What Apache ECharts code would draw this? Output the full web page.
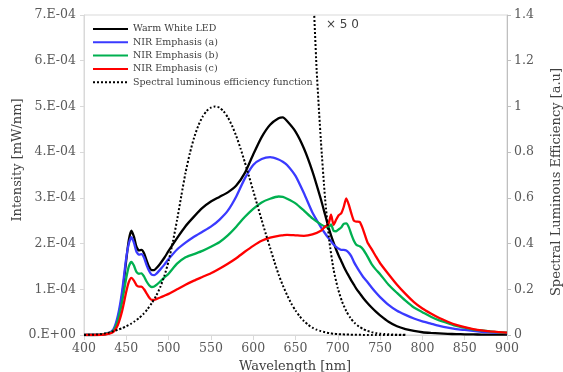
<!DOCTYPE html>
<html>
<head>
<meta charset="utf-8">
<script src="https://cdn.jsdelivr.net/npm/echarts@6/dist/echarts.min.js"></script>
<style>
  html, body { margin: 0; padding: 0; background: #fff; }
  #chart { width: 563px; height: 372px; }
</style>
</head>
<body>
<div id="chart"></div>
<script>
// Wavelength grid (nm) shared by the four emission spectra
const wavelengths = [400, 410, 420, 430, 435, 440, 445, 450,
  453, 456, 459, 462, 465, 468, 471, 474, 477, 480, 483, 486,
  490, 495, 500, 510, 520, 530, 540, 550, 560, 570, 580, 590, 600,
  610, 620, 630, 635, 640, 650, 660, 670, 680,
  685, 689, 692, 695, 698, 701, 704, 707, 710, 713, 716, 719, 722, 726,
  730, 735, 740, 745, 750,
  760, 770, 780, 790, 800, 810, 820, 830, 840, 850, 860, 870, 880, 890, 900];

// Spectral intensities in units of 1e-4 mW/nm
const warmWhite = [0, 0, 0.005, 0.04, 0.10, 0.35, 0.85, 1.65,
  2.08, 2.28, 2.15, 1.93, 1.85, 1.86, 1.79, 1.63, 1.49, 1.42, 1.42, 1.47,
  1.56, 1.69, 1.84, 2.12, 2.38, 2.59, 2.78, 2.92, 3.02, 3.12, 3.27, 3.54, 3.95,
  4.33, 4.60, 4.74, 4.76, 4.68, 4.45, 4.08, 3.58, 2.97,
  2.63, 2.36, 2.18, 2.02, 1.87, 1.74, 1.62, 1.50, 1.39, 1.29, 1.19, 1.10, 1.01, 0.91,
  0.81, 0.70, 0.60, 0.51, 0.43,
  0.29, 0.19, 0.13, 0.09, 0.06, 0.045, 0.035, 0.025, 0.02, 0.015, 0.012, 0.01, 0.01, 0.008, 0.008];

const nirA = [0, 0, 0.01, 0.05, 0.13, 0.42, 0.95, 1.70,
  2.00, 2.14, 2.02, 1.82, 1.76, 1.77, 1.69, 1.53, 1.40, 1.32, 1.31, 1.35,
  1.43, 1.54, 1.66, 1.87, 2.02, 2.15, 2.26, 2.37, 2.52, 2.72, 3.03, 3.42, 3.72,
  3.85, 3.89, 3.84, 3.79, 3.72, 3.48, 3.10, 2.68, 2.36,
  2.22, 2.12, 2.05, 1.98, 1.93, 1.89, 1.86, 1.86, 1.85, 1.80, 1.72, 1.60, 1.50, 1.38,
  1.27, 1.16, 1.04, 0.93, 0.83,
  0.66, 0.53, 0.44, 0.36, 0.30, 0.25, 0.20, 0.16, 0.13, 0.11, 0.09, 0.07, 0.06, 0.05, 0.04];

const nirB = [0, 0, 0.01, 0.04, 0.10, 0.32, 0.72, 1.25,
  1.50, 1.60, 1.52, 1.38, 1.34, 1.35, 1.28, 1.17, 1.09, 1.05, 1.06, 1.10,
  1.17, 1.26, 1.34, 1.56, 1.70, 1.77, 1.84, 1.93, 2.03, 2.18, 2.37, 2.58, 2.76,
  2.90, 2.98, 3.03, 3.02, 2.98, 2.88, 2.72, 2.55, 2.42,
  2.37, 2.35, 2.42, 2.28, 2.27, 2.31, 2.35, 2.43, 2.44, 2.36, 2.20, 2.06, 1.97, 1.94,
  1.87, 1.72, 1.55, 1.43, 1.33,
  1.10, 0.92, 0.75, 0.60, 0.50, 0.40, 0.32, 0.26, 0.20, 0.16, 0.12, 0.10, 0.08, 0.06, 0.05];

const nirC = [0, 0, 0.005, 0.03, 0.07, 0.22, 0.52, 0.95,
  1.16, 1.25, 1.19, 1.09, 1.06, 1.06, 1.00, 0.91, 0.82, 0.77, 0.77, 0.79,
  0.82, 0.86, 0.90, 1.00, 1.10, 1.19, 1.27, 1.35, 1.45, 1.56, 1.68, 1.82, 1.95,
  2.06, 2.13, 2.17, 2.18, 2.19, 2.18, 2.17, 2.20, 2.28,
  2.37, 2.43, 2.63, 2.41, 2.52, 2.62, 2.66, 2.80, 2.99, 2.85, 2.66, 2.50, 2.48, 2.47,
  2.30, 2.03, 1.88, 1.72, 1.57,
  1.33, 1.10, 0.90, 0.72, 0.58, 0.47, 0.37, 0.29, 0.22, 0.17, 0.13, 0.10, 0.08, 0.065, 0.05];

// Photopic luminous efficiency V(lambda)
const vWavelengths = [400, 405, 410, 415, 420, 425, 430, 435, 440, 445, 450, 455,
  460, 465, 470, 475, 480, 485, 490, 495, 500, 505, 510, 515, 520, 525, 530, 535,
  540, 545, 550, 555, 560, 565, 570, 575, 580, 585, 590, 595, 600, 605, 610, 615,
  620, 625, 630, 635, 640, 645, 650, 655, 660, 665, 670, 675, 680, 685, 690, 695,
  700, 705, 710, 715, 720, 725, 730, 735, 740, 745, 750, 755, 760, 765, 770, 775, 780];
const vLambda = [0.000396, 0.00064, 0.00121, 0.00218, 0.004, 0.0073, 0.0116, 0.01684,
  0.023, 0.0298, 0.038, 0.048, 0.06, 0.0739, 0.09098, 0.1126, 0.13902, 0.1693,
  0.20802, 0.2586, 0.323, 0.4073, 0.503, 0.6082, 0.71, 0.7932, 0.862, 0.91485,
  0.954, 0.9803, 0.99495, 1.0, 0.995, 0.9786, 0.952, 0.9154, 0.87, 0.8163,
  0.757, 0.6949, 0.631, 0.5668, 0.503, 0.4412, 0.381, 0.321, 0.265, 0.217,
  0.175, 0.1382, 0.107, 0.0816, 0.061, 0.04458, 0.032, 0.0232, 0.017, 0.01192,
  0.00821, 0.005723, 0.004102, 0.002929, 0.002091, 0.001484, 0.001047, 0.00074,
  0.00052, 0.000361, 0.000249, 0.000172, 0.00012, 0.0000848, 0.00006, 0.0000424,
  0.00003, 0.0000212, 0.000015];
// The magnified copy only covers the red tail of V(lambda)
const vMagnification = 50;
const vMagnifiedFrom = 650;

const intensityTicks = ['0.E+00', '1.E-04', '2.E-04', '3.E-04', '4.E-04', '5.E-04', '6.E-04', '7.E-04'];
const spectrumNames = ['Warm White LED', 'NIR Emphasis (a)', 'NIR Emphasis (b)', 'NIR Emphasis (c)'];
const vName = 'Spectral luminous efficiency function';

const SERIF = '"DejaVu Serif", "Liberation Serif", serif';
const colors = ['#000000', '#3a3aff', '#00b050', '#ff0000'];
const spectra = [warmWhite, nirA, nirB, nirC];

const pairs = (xs, ys, k) => xs.map((x, i) => [x, ys[i] * (k || 1)]);

const series = spectra.map((vals, i) => ({
  name: spectrumNames[i],
  type: 'line',
  yAxisIndex: 0,
  data: pairs(wavelengths, vals),
  symbol: 'none',
  smooth: 0.2,
  lineStyle: { color: colors[i], width: 2.3 },
  itemStyle: { color: colors[i] },
  z: 3 + i
}));

const dotted = { color: '#000', width: 2, type: [2, 2], cap: 'butt' };
series.push({
  name: vName,
  type: 'line',
  yAxisIndex: 1,
  data: pairs(vWavelengths, vLambda),
  symbol: 'none',
  smooth: 0.2,
  lineStyle: dotted,
  itemStyle: { color: '#000' },
  z: 8
});
series.push({
  name: 'vMagnified',
  type: 'line',
  yAxisIndex: 1,
  data: pairs(vWavelengths, vLambda, vMagnification).filter(p => p[0] >= vMagnifiedFrom),
  symbol: 'none',
  smooth: 0.2,
  clip: true,
  lineStyle: dotted,
  itemStyle: { color: '#000' },
  z: 8
});

const tickLabel = { fontFamily: SERIF, fontSize: 12.5, color: '#595959' };

const chart = echarts.init(document.getElementById('chart'), null, { renderer: 'canvas' });
chart.setOption({
  animation: false,
  backgroundColor: '#fff',
  grid: { left: 84, right: 56, top: 15, bottom: 37, show: true, borderColor: '#d9d9d9', borderWidth: 1 },
  legend: {
    data: spectrumNames.concat([vName]),
    orient: 'vertical',
    left: 92, top: 24, padding: 0,
    itemWidth: 35, itemHeight: 10, itemGap: 3.3,
    itemStyle: { opacity: 0 },
    textStyle: { fontFamily: SERIF, fontSize: 9.5, color: '#404040', lineHeight: 10 }
  },
  xAxis: {
    type: 'value', min: 400, max: 900, interval: 50,
    axisLine: { show: true, lineStyle: { color: '#d9d9d9', width: 1 } },
    axisTick: { show: true, length: 5, lineStyle: { color: '#d9d9d9' } },
    axisLabel: Object.assign({ margin: 7 }, tickLabel),
    splitLine: { show: false }
  },
  yAxis: [{
    type: 'value', min: 0, max: 7, interval: 1, position: 'left',
    axisLine: { show: true, lineStyle: { color: '#d9d9d9', width: 1 } },
    axisTick: { show: true, length: 4, lineStyle: { color: '#d9d9d9' } },
    axisLabel: Object.assign({ margin: 8, formatter: v => intensityTicks[Math.round(v)] }, tickLabel),
    splitLine: { show: false }
  }, {
    type: 'value', min: 0, max: 1.4, interval: 0.2, position: 'right',
    axisLine: { show: true, lineStyle: { color: '#bfbfbf', width: 1 } },
    axisTick: { show: true, length: 4, lineStyle: { color: '#bfbfbf' } },
    axisLabel: Object.assign({ margin: 7 }, tickLabel),
    splitLine: { show: false }
  }],
  graphic: [
    { type: 'text', x: 295, y: 367, style: { text: 'Wavelength [nm]', font: '13px ' + SERIF, fill: '#404040', align: 'center', verticalAlign: 'middle' } },
    { type: 'text', x: 18, y: 160, rotation: Math.PI / 2, style: { text: 'Intensity [mW/nm]', font: '13px ' + SERIF, fill: '#404040', align: 'center', verticalAlign: 'middle' } },
    { type: 'text', x: 557, y: 182, rotation: Math.PI / 2, style: { text: 'Spectral Luminous Efficiency [a.u]', font: '13px ' + SERIF, fill: '#404040', align: 'center', verticalAlign: 'middle' } },
    { type: 'text', x: 326, y: 25, style: { text: '× 5 0', font: '12px "DejaVu Sans", sans-serif', fill: '#404040', align: 'left', verticalAlign: 'middle' } }
  ],
  series: series
});
</script>
</body>
</html>
